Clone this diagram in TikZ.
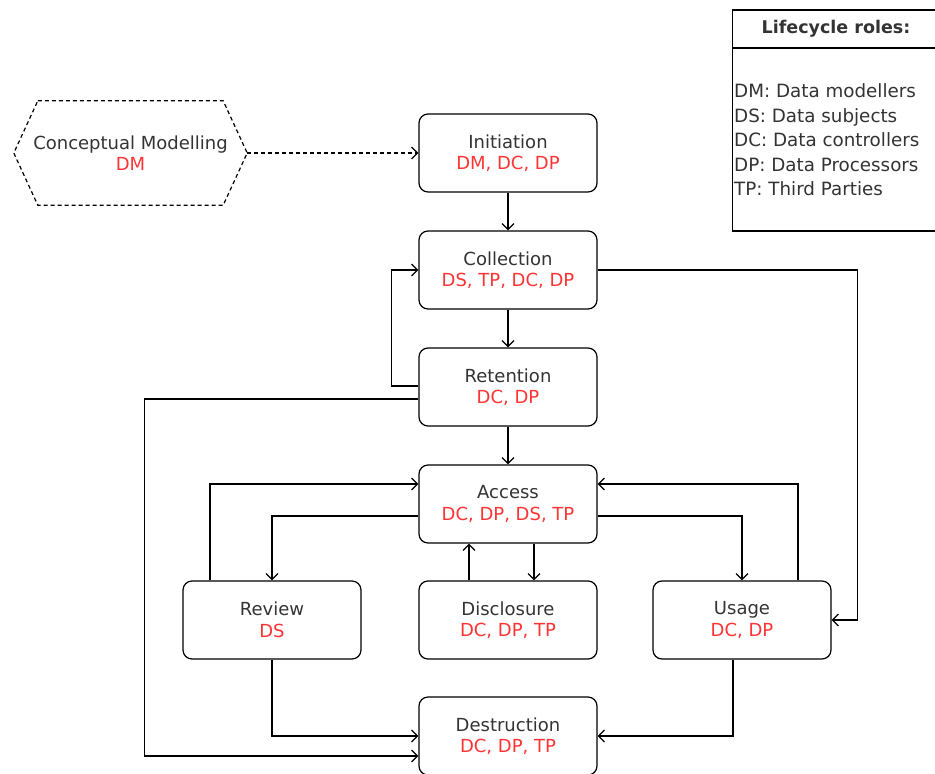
\documentclass[tikz,border=0pt]{standalone}
\usepackage{fontspec}
\setmainfont{DejaVu Sans}
\usetikzlibrary{arrows.meta}
\definecolor{txt}{HTML}{333333}
\definecolor{role}{HTML}{FF3333}

\begin{document}
\begin{tikzpicture}[x=1pt,y=-1pt,
  stage/.style={draw, rounded corners=9pt, minimum width=178pt, minimum height=78pt,
    line width=1.2pt, align=center, text=txt, inner sep=0pt,
    font=\fontsize{18}{21.5}\selectfont},
  link/.style={line width=1.2pt, -{Straight Barb[length=6pt,width=12pt]}},
]
\useasboundingbox (0,0) rectangle (935,774);

% lifecycle stages
\node[stage] (init) at (508,153) {Initiation\\\textcolor{role}{DM, DC, DP}};
\node[stage] (coll) at (508,270) {Collection\\\textcolor{role}{DS, TP, DC, DP}};
\node[stage] (ret)  at (508,387) {Retention\\\textcolor{role}{DC, DP}};
\node[stage] (acc)  at (508,504) {Access\\\textcolor{role}{DC, DP, DS, TP}};
\node[stage] (rev)  at (272,620) {Review\\\textcolor{role}{DS}};
\node[stage] (dis)  at (508,620) {Disclosure\\\textcolor{role}{DC, DP, TP}};
\node[stage] (use)  at (742,620) {Usage\\\textcolor{role}{DC, DP}};
\node[stage] (dest) at (508,736) {Destruction\\\textcolor{role}{DC, DP, TP}};

% conceptual modelling (dashed hexagon)
\node[minimum width=233pt, minimum height=104pt, inner sep=0pt, align=center, text=txt,
  font=\fontsize{18}{21.5}\selectfont] (cm) at (130.5,153)
  {Conceptual Modelling\\\textcolor{role}{DM}};
\draw[line width=1.2pt, dash pattern=on 4pt off 3pt]
  ([xshift=24pt]cm.north west) -- ([xshift=-24pt]cm.north east) -- (cm.east)
  -- ([xshift=-24pt]cm.south east) -- ([xshift=24pt]cm.south west) -- (cm.west) -- cycle;

% connectors
\draw[link, dash pattern=on 4pt off 3pt] (cm.east) -- (init.west);
\draw[link] (init) -- (coll);
\draw[link] (coll) -- (ret);
\draw[link] (ret) -- (acc);
\draw[link] ([yshift=1pt]ret.west) -- ++(-27,0) |- (coll.west);
\draw[link] ([yshift=-12pt]ret.west) -- ++(-274,0) |- ([yshift=-20pt]dest.west);
\draw[link] (coll.east) -- ++(260,0) |- (use.east);
\draw[link] ([xshift=-62pt]rev.north) |- ([yshift=20pt]acc.west);
\draw[link] ([yshift=-12pt]acc.west) -| (rev.north);
\draw[link] ([yshift=-12pt]acc.east) -| (use.north);
\draw[link] ([xshift=56pt]use.north) |- ([yshift=20pt]acc.east);
\draw[link] ([xshift=-39pt]dis.north) -- ([xshift=-39pt]acc.south);
\draw[link] ([xshift=26pt]acc.south) -- ([xshift=26pt]dis.north);
\draw[link] (rev.south) |- (dest.west);
\draw[link] ([xshift=-9pt]use.south) |- (dest.east);

% legend
\draw[line width=1.2pt] (935,10) -- (732.5,10) -- (732.5,231) -- (935,231);
\draw[line width=1.2pt] (732.5,48) -- (935,48);
\node[text=txt, font=\fontsize{17.5}{21}\selectfont\bfseries] (ltitle) at (836,29) {Lifecycle roles:};
\node[anchor=west, align=left, text=txt, inner sep=0pt,
  font=\fontsize{18.3}{24.5}\selectfont] (lbody) at (734,140)
  {DM: Data modellers\\DS: Data subjects\\DC: Data controllers\\DP: Data Processors\\TP: Third Parties};
\end{tikzpicture}
\end{document}
